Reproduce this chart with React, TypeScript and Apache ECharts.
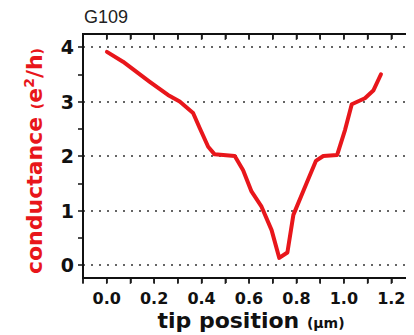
import React, { useEffect, useRef } from "react";
import * as echarts from "echarts";

const title = "G109";
const xName = "tip position";
const xUnit = "(μm)";
const yName = "conductance";
const tipPosition = [0.0, 0.067, 0.179, 0.255, 0.304, 0.36, 0.388, 0.423, 0.45, 0.534, 0.569, 0.604, 0.646, 0.688, 0.72, 0.754, 0.779, 0.834, 0.873, 0.904, 0.962, 0.995, 1.023, 1.078, 1.113, 1.145];
const conductance = [3.91, 3.73, 3.36, 3.12, 3.0, 2.79, 2.51, 2.17, 2.03, 2.0, 1.74, 1.35, 1.07, 0.64, 0.13, 0.23, 0.92, 1.5, 1.91, 2.0, 2.02, 2.48, 2.95, 3.06, 3.2, 3.5];
const xTicks = [-0.1, 0.0, 0.1, 0.2, 0.3, 0.4, 0.5, 0.6, 0.7, 0.8, 0.9, 1.0, 1.1, 1.2];
const xRange = [-0.1, 1.283];
const yRange = [0, 4];
const frameRange = [0, 1];

const RED = "#e8161b";
const INK = "#111";
const NUMFONT = "DejaVu Sans";

export default function App() {
  const ref = useRef<HTMLDivElement>(null);
  useEffect(() => {
    if (!ref.current) return;
    const chart = echarts.init(ref.current, null, { renderer: "svg" });
    const data = tipPosition.map((x, i) => [x, conductance[i]]);
    const frame = [
      [xRange[1], frameRange[1]],
      [xRange[0], frameRange[1]],
      [xRange[0], frameRange[0]],
      [xRange[1], frameRange[0]],
    ];
    const tick = () => ({ color: INK, width: 1.5 });
    chart.setOption({
      animation: false,
      grid: [
        { left: 75, right: 0, top: 39, bottom: 70 },
        { left: 75, right: 0, top: 26, bottom: 57 },
      ],
      graphic: [
        { type: "line", shape: { x1: 75, y1: 25, x2: 75, y2: 271 }, style: { stroke: INK, lineWidth: 2 } },
        { type: "line", shape: { x1: 74, y1: 26, x2: 410, y2: 26 }, style: { stroke: INK, lineWidth: 2 } },
        { type: "line", shape: { x1: 74, y1: 270, x2: 410, y2: 270 }, style: { stroke: INK, lineWidth: 2 } },
        {
          type: "text",
          x: 76,
          y: 0,
          style: { text: title, fill: "#222", fontFamily: "Liberation Sans", fontSize: 18, align: "left", verticalAlign: "top" },
        },
        {
          type: "text",
          x: 243,
          y: 312,
          style: {
            text: "{a|" + xName + " }{b|" + xUnit + "}",
            align: "center",
            verticalAlign: "middle",
            rich: {
              a: { fontFamily: NUMFONT, fontWeight: "bold", fontSize: 22, fill: INK, color: INK },
              b: { fontFamily: NUMFONT, fontWeight: "bold", fontSize: 14, fill: INK, color: INK, padding: [5, 0, 0, 0] },
            },
          },
        },
        {
          type: "text",
          x: 26,
          y: 153,
          rotation: Math.PI / 2,
          style: {
            text: "{a|" + yName + " }{p|(}{a|e}{s|2}{a|/h}{p|)}",
            align: "center",
            verticalAlign: "middle",
            rich: {
              a: { fontFamily: NUMFONT, fontWeight: "bold", fontSize: 22, fill: RED, color: RED },
              p: { fontFamily: NUMFONT, fontWeight: "bold", fontSize: 14, fill: RED, color: RED, padding: [6, 0, 0, 0] },
              s: { fontFamily: NUMFONT, fontWeight: "bold", fontSize: 14, fill: RED, color: RED, padding: [0, 0, 10, 0] },
            },
          },
        },
      ],
      xAxis: [
        { type: "value", gridIndex: 0, min: xRange[0], max: xRange[1], show: false },
        {
          type: "value",
          gridIndex: 1,
          position: "bottom",
          min: xRange[0],
          max: xRange[1],
          interval: 0.1,
          axisLine: { show: true, onZero: false, lineStyle: { color: INK, width: 2 } },
          axisTick: { show: true, inside: false, length: 5, lineStyle: tick() },
          splitLine: { show: false },
          axisLabel: {
            margin: 12,
            fontFamily: NUMFONT,
            fontWeight: "bold",
            fontSize: 16,
            color: INK,
            formatter: (v: number) => {
              const k = Math.round(v * 10);
              return k >= 0 && k % 2 === 0 && Math.abs(v * 10 - k) < 0.01 ? (k / 10).toFixed(1) : "";
            },
          },
        },
        {
          type: "value",
          gridIndex: 1,
          position: "top",
          min: xRange[0],
          max: xRange[1],
          interval: 0.1,
          axisLine: { show: true, onZero: false, lineStyle: { color: INK, width: 2 } },
          axisTick: { show: true, inside: true, length: 5, lineStyle: tick() },
          splitLine: { show: false },
          axisLabel: { show: false },
        },
      ],
      yAxis: [
        {
          type: "value",
          gridIndex: 0,
          position: "left",
          min: yRange[0],
          max: yRange[1],
          interval: 1,
          axisLine: { show: false, onZero: false },
          axisTick: { show: false },
          splitLine: { show: true, lineStyle: { type: [2, 6], color: "#333", width: 1.6 } },
          axisLabel: { margin: 9, fontFamily: NUMFONT, fontWeight: "bold", fontSize: 19, color: INK },
        },
        {
          type: "value",
          gridIndex: 0,
          position: "left",
          min: yRange[0],
          max: yRange[1],
          interval: 0.5,
          axisLine: { show: false, onZero: false },
          axisTick: { show: true, inside: false, length: 5, lineStyle: tick() },
          splitLine: { show: false },
          axisLabel: { show: false },
        },
        {
          type: "value",
          gridIndex: 1,
          position: "left",
          min: frameRange[0],
          max: frameRange[1],
          axisLine: { show: true, onZero: false, lineStyle: { color: INK, width: 2 } },
          axisTick: { show: false },
          splitLine: { show: false },
          axisLabel: { show: false },
        },
      ],
      series: [
        {
          type: "line",
          name: "frame",
          data: frame,
          xAxisIndex: 1,
          yAxisIndex: 2,
          symbol: "none",
          clip: false,
          silent: true,
          lineStyle: { color: INK, width: 2 },
          z: 4,
        },
        {
          type: "scatter",
          name: "bottomTicks",
          data: xTicks.map((v) => [v, frameRange[0]]),
          xAxisIndex: 1,
          yAxisIndex: 2,
          symbol: "rect",
          symbolSize: [1.5, 5],
          symbolOffset: [0, 3.5],
          clip: false,
          silent: true,
          itemStyle: { color: INK },
          z: 4,
        },
        {
          type: "scatter",
          name: "topTicks",
          data: xTicks.map((v) => [v, frameRange[1]]),
          xAxisIndex: 1,
          yAxisIndex: 2,
          symbol: "rect",
          symbolSize: [1.5, 5],
          symbolOffset: [0, 3.5],
          clip: false,
          silent: true,
          itemStyle: { color: INK },
          z: 4,
        },
        {
          type: "line",
          name: "conductance",
          data,
          xAxisIndex: 0,
          yAxisIndex: 0,
          symbol: "none",
          smooth: false,
          lineStyle: { color: RED, width: 4, join: "round", cap: "round" },
          z: 5,
        },
      ],
    });
    return () => chart.dispose();
  }, []);
  return <div ref={ref} style={{ width: 406, height: 327 }} />;
}
